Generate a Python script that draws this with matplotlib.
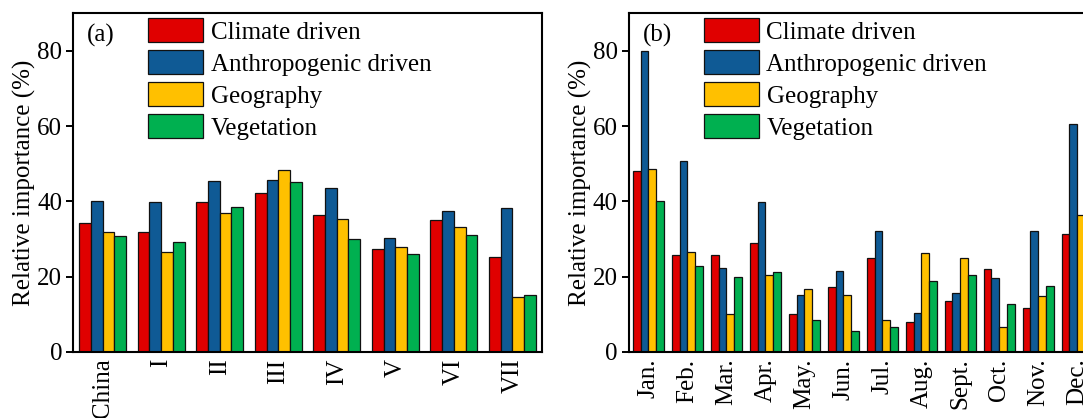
import numpy as np
import matplotlib
matplotlib.use("Agg")
import matplotlib.pyplot as plt

plt.rcParams['font.family'] = ['Liberation Serif', 'DejaVu Serif']
plt.rcParams['font.size'] = 18

series = ["Climate driven", "Anthropogenic driven", "Geography", "Vegetation"]
colors = ["#E00000", "#0F5A95", "#FFC000", "#00B050"]

regions = ["China", "I", "II", "III", "IV", "V", "VI", "VII"]
reg_climate = [34.1, 31.8, 39.9, 42.1, 36.3, 27.4, 35.1, 25.3]
reg_anthro = [40.0, 39.8, 45.4, 45.6, 43.6, 30.2, 37.4, 38.3]
reg_geo = [31.9, 26.6, 37.0, 48.3, 35.4, 27.9, 33.2, 14.6]
reg_veg = [30.7, 29.3, 38.6, 45.2, 30.1, 25.9, 31.0, 15.1]

months = ["Jan.", "Feb.", "Mar.", "Apr.", "May.", "Jun.", "Jul.", "Aug.",
          "Sept.", "Oct.", "Nov.", "Dec."]
mon_climate = [48.1, 25.8, 25.8, 28.8, 9.9, 17.3, 24.8, 7.8, 13.6, 22.1, 11.5, 31.4]
mon_anthro = [80.0, 50.7, 22.3, 39.9, 15.0, 21.4, 32.2, 10.4, 15.7, 19.6, 32.0, 60.5]
mon_geo = [48.5, 26.6, 10.1, 20.4, 16.6, 15.0, 8.5, 26.3, 25.0, 6.5, 14.8, 36.3]
mon_veg = [40.2, 22.8, 19.8, 21.2, 8.3, 5.5, 6.5, 18.7, 20.5, 12.7, 17.5, np.nan]

W, H = 1083, 418
fig = plt.figure(figsize=(W / 100, H / 100), dpi=100)

bottom = (H - 351.7) / H
height = (351.7 - 13.3) / H
ax_a = fig.add_axes([73.3 / W, bottom, (541.7 - 73.3) / W, height])
ax_b = fig.add_axes([629.0 / W, bottom, (1096.7 - 629.0) / W, height])


def draw(ax, cats, data, label):
    x = np.arange(len(cats))
    bw = 0.2
    for i, (vals, c, name) in enumerate(zip(data, colors, series)):
        ax.bar(x + (i - 1.5) * bw, vals, width=bw, color=c, edgecolor="#111111",
               linewidth=0.9, label=name)
    ax.set_xlim(-0.5, len(cats) - 0.5)
    ax.set_ylim(0, 90)
    ax.set_yticks([0, 20, 40, 60, 80])
    ax.set_xticks(x)
    ax.set_xticklabels(cats, rotation=90)
    ax.tick_params(axis='x', length=0, pad=5)
    ax.tick_params(axis='y', length=5, width=1.4, pad=3, direction='out')
    for s in ax.spines.values():
        s.set_linewidth(1.5)
    ax.set_ylabel("Relative importance (%)", labelpad=0.5)
    ax.text(0.03, 0.935, label, transform=ax.transAxes, va='center', ha='left')
    axw = ax.get_position().width * W
    ax.legend(loc='upper left', bbox_to_anchor=(74.5 / axw, 0.985), frameon=False,
              borderpad=0, borderaxespad=0, handlelength=2.2, handleheight=1.07,
              labelspacing=0.27, handletextpad=0.32)


draw(ax_a, regions, [reg_climate, reg_anthro, reg_geo, reg_veg], "(a)")
draw(ax_b, months, [mon_climate, mon_anthro, mon_geo, mon_veg], "(b)")

fig.savefig("out.png", dpi=100)
